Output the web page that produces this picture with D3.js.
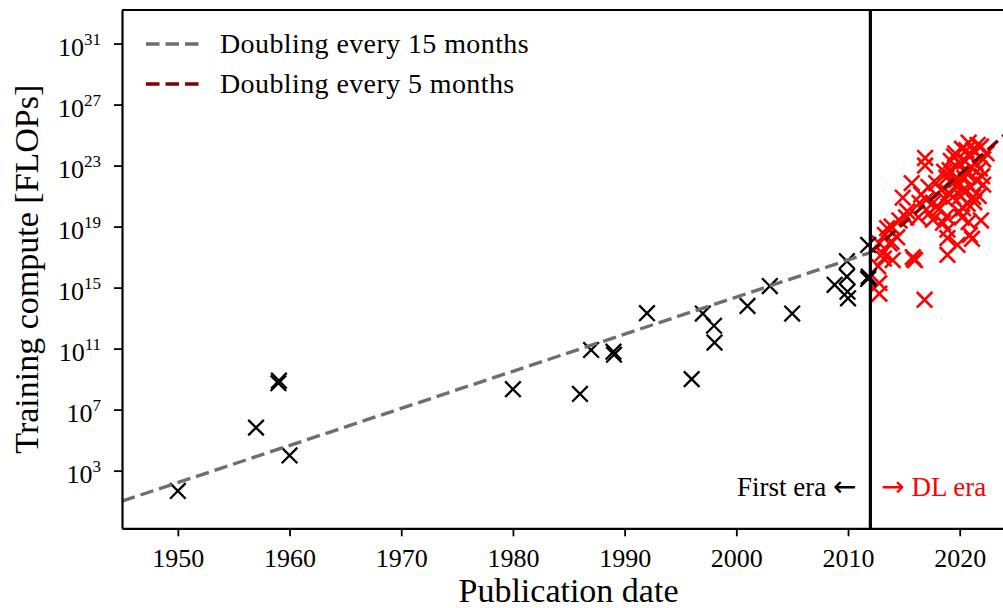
<!DOCTYPE html>
<html>
<head>
<meta charset="utf-8">
<script src="https://cdn.jsdelivr.net/npm/d3@7"></script>
<style>
  body { margin: 0; background: #fff; }
  svg { display: block; font-family: "Liberation Serif", "DejaVu Serif", serif; }
</style>
</head>
<body>
<div id="chart"></div>
<script>
"use strict";

// pre-2012 systems: publication year and log10(training FLOPs)
const firstEraYears = [1950, 1957, 1959, 1959.05, 1960, 1980, 1986, 1987, 1989, 1989.05, 1992, 1996,
  1997, 1998, 1998.05, 2001, 2003, 2005, 2008.8, 2009.9, 2009.9, 2009.95, 2010, 2011.8, 2011.85, 2011.8];
const firstEraLog10 = [1.67, 5.82, 8.73, 8.9, 4.0, 8.34, 8.03, 10.91, 10.8, 10.6, 13.32, 9.0,
  13.3, 12.5, 11.4, 13.8, 15.1, 13.3, 15.18, 16.73, 15.72, 14.73, 14.3, 17.8, 15.72, 15.57];

// deep learning era systems
const dlEraYears = [2016.9, 2016.9, 2015.7, 2014.9, 2016.55, 2017.0, 2017.6, 2018.2, 2017.3, 2018.8,
  2018.9, 2018.9, 2018.9, 2020.9, 2021.9, 2013.9, 2013.3, 2012.8, 2013.7, 2013.1,
  2014.0, 2012.7, 2015.8, 2016.0, 2012.8, 2012.8, 2016.85, 2020.6, 2021.6, 2020.9,
  2020.0, 2019.1, 2018.8, 2019.7, 2020.6, 2021.5, 2022.1, 2020.3, 2021.2, 2019.4,
  2018.35, 2017.9, 2021.9, 2022.1, 2022.4, 2020.3, 2018.5, 2017.6, 2016.4, 2015.9,
  2019.8, 2019.9, 2020.5, 2021.0, 2020.1, 2019.5, 2021.3, 2021.7, 2019.0, 2020.8,
  2015.2, 2014.4, 2013.5, 2018.6,
  2019.2, 2019.6, 2020.2, 2020.8, 2021.2, 2021.4, 2020.4, 2019.9, 2021.0, 2021.8,
  2022.0, 2020.7, 2019.3, 2018.7, 2017.9, 2017.2, 2016.3, 2015.3, 2014.6, 2013.9,
  2013.2, 2021.1, 2020.2];
const dlEraLog10 = [23.5, 23.0, 21.85, 20.9, 21.1, 20.75, 20.55, 20.2, 19.9, 19.65,
  18.8, 18.25, 17.15, 18.45, 19.4, 19.0, 18.45, 17.9, 17.9, 17.25,
  16.8, 16.4, 17.0, 16.8, 15.3, 14.6, 14.2, 24.0, 24.35, 23.6,
  23.15, 22.7, 22.2, 22.05, 22.5, 22.05, 21.75, 21.4, 20.95, 20.95,
  21.4, 21.85, 24.25, 23.4, 23.8, 20.2, 19.25, 19.45, 20.55, 16.85,
  17.8, 20.0, 23.3, 22.9, 21.0, 23.6, 20.6, 21.0, 21.2, 19.3,
  19.6, 18.3, 18.9, 22.6,
  23.3, 23.8, 24.1, 24.5, 24.0, 23.2, 22.2, 21.7, 21.6, 22.8,
  22.3, 20.5, 21.9, 20.8, 20.3, 21.6, 19.6, 20.0, 19.4, 18.0,
  16.9, 18.2, 19.6];

// fitted trends: [start year, end year], [log10 at start, log10 at end]
const trendLabels = ["Doubling every 15 months", "Doubling every 5 months"];
const trendYears = [[1945, 2012], [2012, 2024]];
const trendLog10 = [[1.0, 17.3], [17.3, 25.0]];
const trendColors = ["#6e6e6e", "#800000"];

const eraSplit = 2012;
const xTicks = [1950, 1960, 1970, 1980, 1990, 2000, 2010, 2020];
const yTickExps = [3, 7, 11, 15, 19, 23, 27, 31];

const W = 1003, H = 608;
const plotLeft = 122, plotTop = 10, plotBottom = 528.3, plotRight = 1004.4;

const svg = d3.select("#chart").append("svg")
    .attr("width", W)
    .attr("height", H);

const x = d3.scaleLinear()
    .domain([1945, 2024])
    .range([plotLeft, plotRight]);

const y = d3.scaleLog()
    .domain([Math.pow(10, -0.78), Math.pow(10, 33.2)])
    .range([plotBottom, plotTop]);

const crossPath = "M-7.8,-7.8L7.8,7.8M-7.8,7.8L7.8,-7.8";

// red crosses (DL era)
svg.append("g").selectAll("path")
    .data(dlEraYears.map((yr, i) => [yr, dlEraLog10[i]]))
    .enter().append("path")
    .attr("d", crossPath)
    .attr("transform", d => `translate(${x(d[0])},${y(Math.pow(10, d[1]))})`)
    .style("stroke", "#ff0000")
    .style("stroke-width", 2.6)
    .style("fill", "none");

// black crosses (first era)
svg.append("g").selectAll("path")
    .data(firstEraYears.map((yr, i) => [yr, firstEraLog10[i]]))
    .enter().append("path")
    .attr("d", crossPath)
    .attr("transform", d => `translate(${x(d[0])},${y(Math.pow(10, d[1]))})`)
    .style("stroke", "#000")
    .style("stroke-width", 2.3)
    .style("fill", "none");

// trend lines
const line = d3.line()
    .x(d => x(d[0]))
    .y(d => y(Math.pow(10, d[1])));

trendYears.forEach(function(yrs, i) {
  svg.append("path")
      .datum([[yrs[0], trendLog10[i][0]], [yrs[1], trendLog10[i][1]]])
      .attr("d", line)
      .style("stroke", trendColors[i])
      .style("stroke-width", 3.4)
      .style("stroke-dasharray", "13.5,6")
      .style("fill", "none");
});

// era separator
svg.append("line")
    .attr("x1", x(eraSplit)).attr("x2", x(eraSplit))
    .attr("y1", plotTop).attr("y2", plotBottom)
    .style("stroke", "#000")
    .style("stroke-width", 3.2);

// axes
const xAxis = svg.append("g")
    .attr("transform", `translate(0,${plotBottom})`)
    .call(d3.axisBottom(x).tickValues(xTicks).tickFormat(d3.format("d")).tickSize(8).tickSizeOuter(0));

const yAxis = svg.append("g")
    .attr("transform", `translate(${plotLeft},0)`)
    .call(d3.axisLeft(y).tickValues(yTickExps.map(e => Math.pow(10, e))).tickSize(8).tickSizeOuter(0));

[xAxis, yAxis].forEach(function(g) {
  g.select(".domain").style("stroke-width", 2.2);
  g.selectAll(".tick line").style("stroke-width", 1.8);
});

xAxis.selectAll(".tick text")
    .attr("y", 20)
    .style("font-family", "Liberation Serif")
    .style("font-size", "26px")
    .style("fill", "#000");

yAxis.selectAll(".tick text")
    .text(null)
    .attr("x", -21)
    .attr("dy", "0.45em")
    .style("font-family", "Liberation Serif")
    .style("font-size", "26px")
    .style("fill", "#000")
    .each(function(d) {
      const t = d3.select(this);
      t.append("tspan").text("10");
      t.append("tspan")
          .attr("dy", -11)
          .style("font-size", "17px")
          .text(Math.round(Math.log10(d)));
    });

// top spine
svg.append("line")
    .attr("x1", plotLeft).attr("x2", plotRight)
    .attr("y1", plotTop).attr("y2", plotTop)
    .style("stroke", "#000")
    .style("stroke-width", 2.2);

// legend
trendLabels.forEach(function(label, i) {
  const ly = 44 + i * 40;
  svg.append("line")
      .attr("x1", 146).attr("x2", 200)
      .attr("y1", ly).attr("y2", ly)
      .style("stroke", trendColors[i])
      .style("stroke-width", 3.4)
      .style("stroke-dasharray", "13.5,6");
  svg.append("text")
      .attr("x", 220)
      .attr("y", ly + 9)
      .style("font-size", "28px")
      .style("letter-spacing", "0.4px")
      .style("fill", "#000")
      .text(label);
});

// era annotations (arrows set in a wider face, like TeX arrows)
const leftNote = svg.append("text")
    .attr("x", x(eraSplit) - 14)
    .attr("y", 496)
    .attr("text-anchor", "end")
    .style("font-size", "27px")
    .style("fill", "#000");
leftNote.append("tspan").text("First era ");
leftNote.append("tspan").style("font-family", "DejaVu Sans").style("font-size", "28px").text("\u2190");

const rightNote = svg.append("text")
    .attr("x", x(eraSplit) + 11)
    .attr("y", 496)
    .style("font-size", "27px")
    .style("fill", "#ff0000");
rightNote.append("tspan").style("font-family", "DejaVu Sans").style("font-size", "28px").text("\u2192");
rightNote.append("tspan").text(" DL era");

// axis titles
svg.append("text")
    .attr("x", (plotLeft + 1003) / 2 + 6)
    .attr("y", 602)
    .attr("text-anchor", "middle")
    .style("font-size", "34px")
    .style("fill", "#000")
    .text("Publication date");

svg.append("text")
    .attr("transform", `translate(38,${(plotTop + plotBottom) / 2}) rotate(-90)`)
    .attr("text-anchor", "middle")
    .style("font-size", "34px")
    .style("fill", "#000")
    .text("Training compute [FLOPs]");
</script>
</body>
</html>
